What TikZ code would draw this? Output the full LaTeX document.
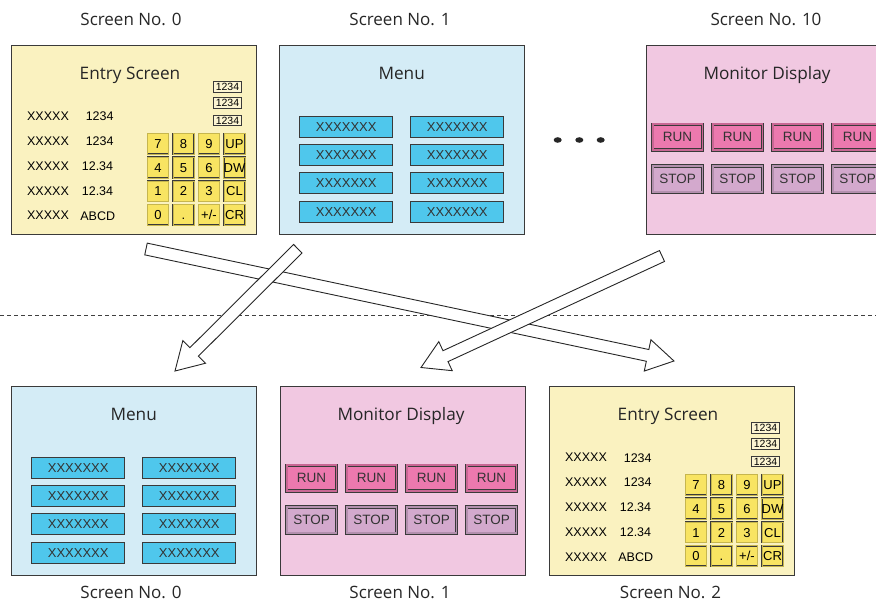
\documentclass[tikz,border=0pt]{standalone}
\usepackage{fontspec}
\setmainfont{Open Sans}
\newfontfamily\arialf{Liberation Sans}
\usetikzlibrary{calc}
\definecolor{edge}{HTML}{3A3A3A}
\definecolor{ybg}{HTML}{FAF2C0}
\definecolor{ykey}{HTML}{F8E462}
\definecolor{ynum}{HTML}{FCF5D2}
\definecolor{bbg}{HTML}{D4ECF6}
\definecolor{bbtn}{HTML}{4FC7EC}
\definecolor{pbg}{HTML}{F1C8E1}
\definecolor{prun}{HTML}{EC79AE}
\definecolor{pstop}{HTML}{D3A9CD}
\tikzset{
  x=1pt,y=-1pt,
  screen/.style={draw=edge,line width=1.1pt,minimum width=245pt,minimum height=189pt,anchor=north west,inner sep=0pt},
  ttl/.style={font=\fontsize{17.2}{20}\selectfont,text=black!85,inner sep=0pt,anchor=base},
  scrlabel/.style={font=\fontsize{17}{20}\selectfont,text=black!85,inner sep=0pt,anchor=base},
  rowtxt/.style={font=\arialf\fontsize{12.5}{14}\selectfont,inner sep=0pt},
  numbox/.style={draw=edge,line width=1.1pt,fill=ynum,minimum width=28pt,minimum height=10.5pt,inner sep=0pt,text height=7.6pt,text depth=0pt,font=\arialf\fontsize{10.5}{11}\selectfont},
  keybtn/.style={draw=edge,double=ykey!80!black,double distance=0.5pt,line width=0.6pt,fill=ykey,minimum width=21pt,minimum height=20.5pt,inner sep=0pt,text height=9.4pt,text depth=0pt,font=\arialf\fontsize{13}{14}\selectfont},
  menubtn/.style={draw=edge,line width=1pt,fill=bbtn,minimum width=93pt,minimum height=21pt,inner sep=0pt,font=\arialf\fontsize{13}{14}\selectfont,text=black!80},
  runbtn/.style={draw=edge,double=prun!85!black,double distance=1.8pt,line width=0.7pt,fill=prun,minimum width=49.7pt,minimum height=25.7pt,inner sep=0pt,font=\arialf\fontsize{13.5}{14}\selectfont,text=black!80},
  stopbtn/.style={runbtn,double=pstop!85!black,fill=pstop,minimum height=26.3pt},
  fatarrow/.style={draw=black!85,line width=0.9pt,fill=white,line join=miter},
}
\newcommand\blockarrow[2]{%
  \coordinate (ba-n) at ($(#2)!27pt!(#1)$);
  \draw[fatarrow] ($(#1)!6pt!90:(#2)$) -- ($(ba-n)!6pt!90:(#2)$) -- ($(ba-n)!16pt!90:(#2)$) -- (#2)
    -- ($(ba-n)!16pt!-90:(#2)$) -- ($(ba-n)!6pt!-90:(#2)$) -- ($(#1)!6pt!-90:(#2)$) -- cycle;}
\newcommand\entryscr[3]{%
  \node[screen,fill=ybg] (#1) at (#2,#3) {};
  \begin{scope}[shift={(#2,#3)}]
    \node[ttl] (#1-t) at (119,35) {Entry Screen};
    \node[numbox] (#1-n1) at (216.5,42) {1234};
    \node[numbox] (#1-n2) at (216.5,58) {1234};
    \node[numbox] (#1-n3) at (216.5,75.5) {1234};
    \node[rowtxt] (#1-x1) at (37,71.7) {XXXXX};
    \node[rowtxt] (#1-x2) at (37,96) {XXXXX};
    \node[rowtxt] (#1-x3) at (37,121) {XXXXX};
    \node[rowtxt] (#1-x4) at (37,146) {XXXXX};
    \node[rowtxt] (#1-x5) at (37,170.7) {XXXXX};
    \node[rowtxt] (#1-v1) at (88.7,71.7) {1234};
    \node[rowtxt] (#1-v2) at (88.7,96) {1234};
    \node[rowtxt] (#1-v3) at (86.5,121) {12.34};
    \node[rowtxt] (#1-v4) at (86.5,146) {12.34};
    \node[rowtxt] (#1-v5) at (86.7,170.7) {ABCD};
    \foreach \lab [count=\c] in {7,8,9,UP} \node[keybtn] (#1-ka\c) at (121.5+25.5*\c,98.8) {\lab};
    \foreach \lab [count=\c] in {4,5,6,DW} \node[keybtn] (#1-kb\c) at (121.5+25.5*\c,122.6) {\lab};
    \foreach \lab [count=\c] in {1,2,3,CL} \node[keybtn] (#1-kc\c) at (121.5+25.5*\c,146.3) {\lab};
    \foreach \lab [count=\c] in {0,.,+/-,CR} \node[keybtn] (#1-kd\c) at (121.5+25.5*\c,169.9) {\lab};
  \end{scope}}
\newcommand\menuscr[3]{%
  \node[screen,fill=bbg] (#1) at (#2,#3) {};
  \begin{scope}[shift={(#2,#3)}]
    \node[ttl] (#1-t) at (122.7,35) {Menu};
    \foreach \yy [count=\r] in {81.7,110,138.3,166.7} {
      \node[menubtn] (#1-l\r) at (67.2,\yy) {XXXXXXX};
      \node[menubtn] (#1-r\r) at (178.3,\yy) {XXXXXXX};
    }
  \end{scope}}
\newcommand\monscr[3]{%
  \node[screen,fill=pbg] (#1) at (#2,#3) {};
  \begin{scope}[shift={(#2,#3)}]
    \node[ttl] (#1-t) at (121,35) {Monitor Display};
    \foreach \xx [count=\c] in {31.6,91.6,151.6,211.6} {
      \node[runbtn] (#1-run\c) at (\xx,92.2) {RUN};
      \node[stopbtn] (#1-stop\c) at (\xx,134.2) {STOP};
    }
  \end{scope}}
\begin{document}
\begin{tikzpicture}
  \useasboundingbox (0,0) rectangle (876,601);
  \clip (0,0) rectangle (876,601);
  % top row
  \node[scrlabel] (l0) at (131,26) {Screen No. 0};
  \node[scrlabel] (l1) at (400,26) {Screen No. 1};
  \node[scrlabel] (l10) at (766,26) {Screen No. 10};
  \entryscr{te}{11}{45}
  \menuscr{tm}{279}{45}
  \monscr{tp}{646}{45}
  \fill[black!85] (557.7,140) ellipse [x radius=4,y radius=2.8];
  \fill[black!85] (579.3,140) ellipse [x radius=4,y radius=2.8];
  \fill[black!85] (600.7,140) ellipse [x radius=4,y radius=2.8];
  % divider
  \coordinate (dl) at (0,316);
  \coordinate (dr) at (876,316);
  \draw[black!75,line width=1pt,dash pattern=on 4pt off 3pt] (dl) -- (dr);
  % bottom row
  \menuscr{bm}{11}{386}
  \monscr{bp}{280}{386}
  \entryscr{be}{549}{386}
  \node[scrlabel] (m0) at (131,598) {Screen No. 0};
  \node[scrlabel] (m1) at (400,598) {Screen No. 1};
  \node[scrlabel] (m2) at (670.5,598) {Screen No. 2};
  % arrows
  \coordinate (a1s) at (146,249);
  \coordinate (a1e) at (674,361);
  \coordinate (a2s) at (297.8,248.7);
  \coordinate (a2e) at (175,371);
  \coordinate (a3s) at (662,256);
  \coordinate (a3e) at (421,367.5);
  \blockarrow{a1s}{a1e}
  \blockarrow{a2s}{a2e}
  \blockarrow{a3s}{a3e}
\end{tikzpicture}
\end{document}
